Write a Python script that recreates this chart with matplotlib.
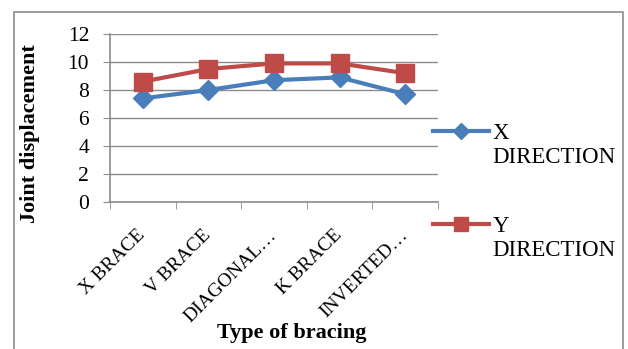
import matplotlib.pyplot as plt
from matplotlib.patches import Rectangle
import numpy as np

CATEGORIES = ['X BRACE', 'V BRACE', 'DIAGONAL\u2026', 'K BRACE', 'INVERTED\u2026']
X_DIRECTION = [7.4, 8.0, 8.7, 8.9, 7.7]
Y_DIRECTION = [8.6, 9.5, 9.9, 9.9, 9.2]
Y_TICKS = [0, 2, 4, 6, 8, 10, 12]

plt.rcParams['font.family'] = ['Liberation Serif', 'DejaVu Serif']

fig = plt.figure(figsize=(6.28, 3.49), dpi=100)
# outer chart border (runs off the bottom edge as in the reference)
fig.patches.append(Rectangle((14 / 628, -0.05), 609 / 628, 1.05 - 12 / 349,
                             transform=fig.transFigure, fill=False,
                             edgecolor='#8c8c8c', linewidth=1.2))

ax = fig.add_axes([110 / 628, 1 - 202 / 349, 328 / 628, 168 / 349])
x = np.arange(len(CATEGORIES))
ax.plot(x, X_DIRECTION, color='#4A7EBB', linewidth=3, marker='D', markersize=10,
        label='X\nDIRECTION', zorder=3)
ax.plot(x, Y_DIRECTION, color='#BE4B48', linewidth=3, marker='s', markersize=12.5,
        label='Y\nDIRECTION', zorder=3)

ax.set_xlim(-0.5, len(CATEGORIES) - 0.5)
ax.set_ylim(0, 12)
ax.set_yticks(Y_TICKS)
ax.set_xticks(x)
ax.set_xticklabels(CATEGORIES, rotation=45, ha='right', va='center',
                   rotation_mode='anchor', fontsize=14)
ax.set_xticks(np.arange(-0.5, len(CATEGORIES)), minor=True)
ax.tick_params(axis='x', which='major', length=0, pad=22)
ax.tick_params(axis='x', which='minor', length=5, color='#8c8c8c')
ax.tick_params(axis='y', length=5, color='#8c8c8c', labelsize=15.5, pad=10)
ax.grid(axis='y', color='#8c8c8c', linewidth=1)
ax.set_axisbelow(True)
for side in ['top', 'right']:
    ax.spines[side].set_visible(False)
for side in ['left', 'bottom']:
    ax.spines[side].set_color('#8c8c8c')
    ax.spines[side].set_linewidth(1.2)

ax.set_xlabel('Type of bracing', fontsize=16, fontweight='bold')
ax.xaxis.set_label_coords(0.553, -0.72)
ax.set_ylabel('Joint displacement', fontsize=16, fontweight='bold')
ax.yaxis.set_label_coords(-0.213, 0.41)

leg = ax.legend(loc='upper left', bbox_to_anchor=(0.985, 0.556), frameon=False,
                fontsize=16.5, borderpad=0, borderaxespad=0, handlelength=2.45,
                handletextpad=0.13, labelspacing=2.1, markerscale=0.8)
# put the marker level with the first line of each two-line label
for txt in leg.get_texts():
    txt.set_y(-14)

fig.savefig('out.png', dpi=100)
